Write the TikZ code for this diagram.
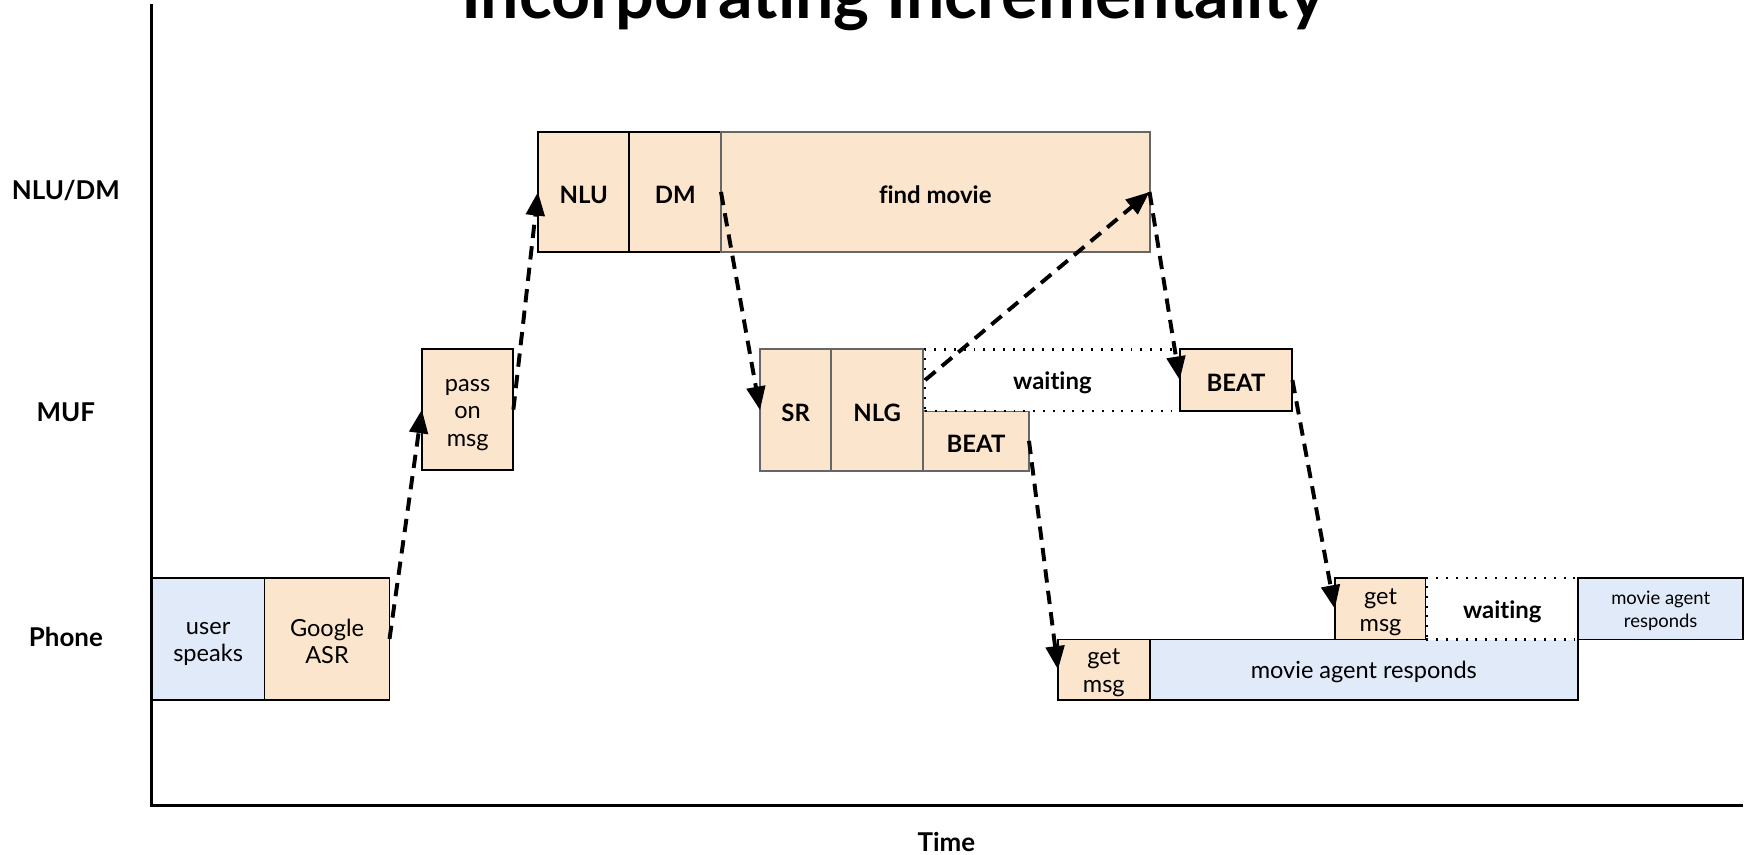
\documentclass[tikz,border=0pt]{standalone}
\usepackage{fontspec}
\setmainfont{Lato}[Ligatures=NoCommon]
\usetikzlibrary{arrows.meta}
\definecolor{peach}{HTML}{FCE5CD}
\definecolor{lblue}{HTML}{E0EAF9}
\definecolor{gborder}{HTML}{666666}
\newcommand{\tp}{\rule{0pt}{0.95em}}
\begin{document}
\begin{tikzpicture}[x=0.01cm,y=-0.01cm,
  sz/.style 2 args={minimum width=#1*0.01cm, minimum height=#2*0.01cm},
  box/.style={draw=black, line width=0.5pt, inner sep=0pt, outer sep=0pt, anchor=north west, align=center,
    font=\fontsize{6}{7}\selectfont, execute at begin node={\tp}},
  boldbox/.style={box, font=\bfseries\fontsize{6.1}{7}\selectfont},
  graybox/.style={draw=gborder},
  waitbox/.style={box, fill=white, dotted, line width=0.6pt, font=\bfseries\fontsize{6.1}{7}\selectfont},
  rowlabel/.style={font=\bfseries\fontsize{6.6}{8}\selectfont},
  flow/.style={line width=1pt, dash pattern=on 3.4pt off 2.1pt, -{Triangle[length=6pt,width=4.7pt]}},
  axis/.style={line width=0.85pt}]
\useasboundingbox (0,0) rectangle (1568,766);

% title
\node[font=\bfseries\fontsize{17.35}{20}\selectfont, anchor=base, inner sep=0pt] (title) at (800,16.5) {Incorporating Incrementality};

% axes
\coordinate (otop) at (136,4);
\coordinate (orig) at (136,722);
\coordinate (xend) at (1562,722);
\draw[axis] (otop) -- (orig) -- (xend);

% row labels
\node[rowlabel] (lnlu) at (59,171) {NLU/DM};
\node[rowlabel] (lmuf) at (59,369) {MUF};
\node[rowlabel] (lphone) at (59,571) {Phone};
\node[rowlabel] (ltime) at (848,754) {Time};

% phone row
\node[box, fill=lblue, sz={101}{109}] (us) at (136,518) {\tp user\\speaks};
\node[box, fill=peach, sz={112}{109}] (asr) at (237,518) {\tp Google\\ASR};

% MUF pass
\node[box, fill=peach, sz={82}{108}] (pass) at (378,313) {\tp pass\\on\\msg};

% NLU/DM row
\node[boldbox, fill=peach, sz={82}{108}] (nlu) at (482,118) {NLU};
\node[boldbox, fill=peach, sz={82}{108}] (dm) at (564,118) {DM};
\node[boldbox, graybox, fill=peach, sz={384}{108}] (find) at (646,118) {find movie};

% MUF row
\node[boldbox, graybox, fill=peach, sz={64}{109}] (sr) at (681,313) {SR};
\node[boldbox, graybox, fill=peach, sz={82}{109}] (nlg) at (745,313) {NLG};
\node[boldbox, graybox, fill=peach, sz={95}{54}] (beatb) at (827,368) {BEAT};
\node[waitbox, sz={228}{55}] (wait1) at (829,313) {waiting};
\node[boldbox, fill=peach, sz={101}{55}] (beata) at (1057,313) {BEAT};

% phone row, later
\node[box, fill=peach, sz={82}{54}] (get1) at (948,573) {\tp get\\msg};
\node[box, fill=lblue, sz={384}{54}] (mar1) at (1030,573) {movie agent responds};
\node[box, fill=peach, sz={82}{55}] (get2) at (1196,518) {\tp get\\msg};
\node[waitbox, sz={136}{55}] (wait2) at (1278,518) {waiting};
\node[box, fill=lblue, sz={148}{55}, font=\fontsize{4.7}{5.7}\selectfont] (mar2) at (1414,518) {\tp movie agent\\responds};

% flows
\draw[flow] (asr.east) -- (pass.west);
\draw[flow] (pass.east) -- (nlu.west);
\draw[flow] (dm.east) -- (sr.west);
\draw[flow] (wait1.west) -- (find.east);
\draw[flow] (find.east) -- (beata.west);
\draw[flow] (beatb.east) -- (get1.west);
\draw[flow] (beata.east) -- (get2.west);
\end{tikzpicture}
\end{document}
